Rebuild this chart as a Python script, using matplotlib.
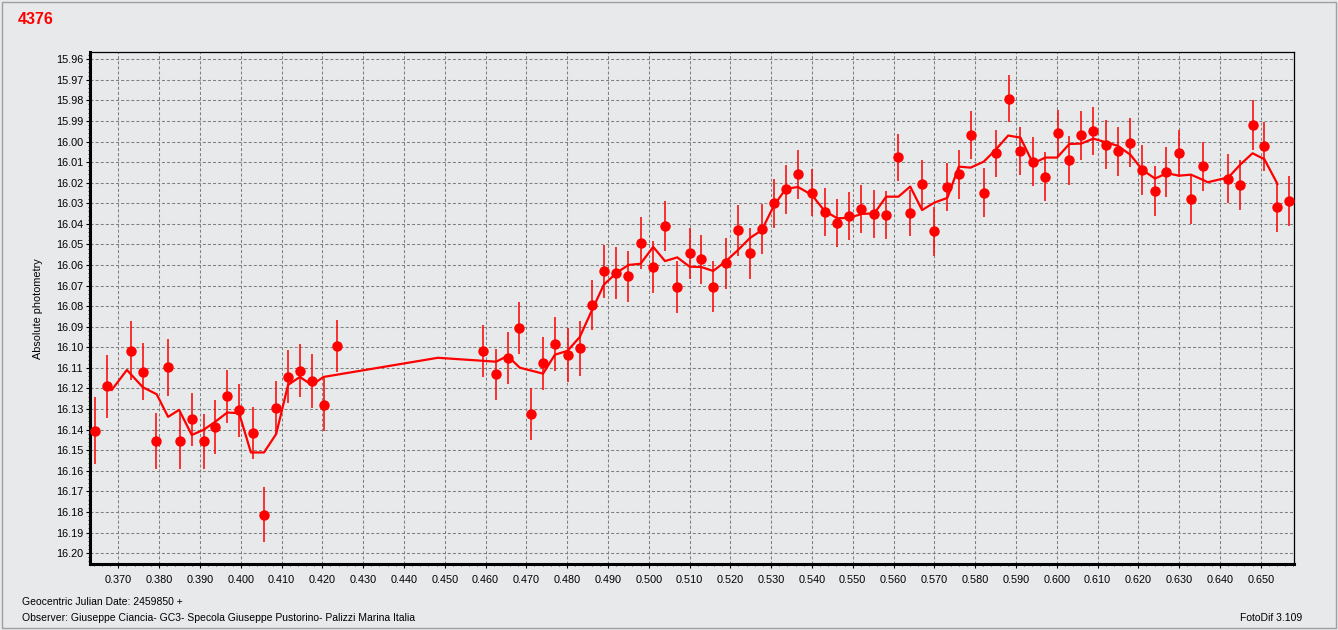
import matplotlib
matplotlib.use("Agg")
import matplotlib.pyplot as plt
from matplotlib.ticker import MultipleLocator, FormatStrFormatter
from matplotlib.patches import Rectangle

# ---- data (Geocentric JD - 2459850, absolute magnitude, error) ----
jd = [0.3643, 0.3672, 0.3731, 0.3760, 0.3792, 0.3822, 0.3851, 0.3880, 0.3909, 0.3938,
      0.3967, 0.3997, 0.4029, 0.4058, 0.4087, 0.4116, 0.4146, 0.4175, 0.4203, 0.4236,
      0.4594, 0.4625, 0.4654, 0.4683, 0.4712, 0.4741, 0.4770, 0.4801, 0.4831, 0.4861,
      0.4890, 0.4920, 0.4950, 0.4980, 0.5011, 0.5040, 0.5070, 0.5100, 0.5129, 0.5158,
      0.5189, 0.5219, 0.5248, 0.5277, 0.5307, 0.5336, 0.5366, 0.5400, 0.5431, 0.5462,
      0.5491, 0.5521,
      0.5553, 0.5582, 0.5612, 0.5641, 0.5670, 0.5699, 0.5731, 0.5760, 0.5789, 0.5821,
      0.5850, 0.5882, 0.5911, 0.5942, 0.5972, 0.6002, 0.6031, 0.6060, 0.6089, 0.6120,
      0.6149, 0.6180, 0.6209, 0.6240, 0.6269, 0.6299, 0.6328, 0.6359, 0.6421, 0.6450,
      0.6480, 0.6509, 0.6541, 0.6570]

mag = [16.1405, 16.1190, 16.1016, 16.1119, 16.1457, 16.1098, 16.1457, 16.1350, 16.1457, 16.1387,
       16.1239, 16.1306, 16.1418, 16.1813, 16.1297, 16.1142, 16.1113, 16.1165, 16.1279, 16.0994,
       16.1019, 16.1131, 16.1053, 16.0906, 16.1323, 16.1077, 16.0985, 16.1037, 16.1005, 16.0795,
       16.0630, 16.0640, 16.0655, 16.0495, 16.0611, 16.0411, 16.0705, 16.0544, 16.0573, 16.0705,
       16.0592, 16.0431, 16.0544, 16.0426, 16.0300, 16.0232, 16.0160, 16.0248, 16.0344, 16.0397,
       16.0362, 16.0329,
       16.0353, 16.0358, 16.0077, 16.0348, 16.0206, 16.0437, 16.0221, 16.0160, 15.9970, 16.0249,
       16.0058, 15.9791, 16.0048, 16.0098, 16.0170, 15.9961, 16.0092, 15.9970, 15.9950, 16.0015,
       16.0048, 16.0005, 16.0140, 16.0240, 16.0148, 16.0058, 16.0280, 16.0121, 16.0180, 16.0212,
       15.9921, 16.0024, 16.0320, 16.0288]

err = [0.0163, 0.0155, 0.0142, 0.0138, 0.0136, 0.0137, 0.0136, 0.0130, 0.0133, 0.0131,
       0.0130, 0.0129, 0.0127, 0.0132, 0.0131, 0.0129, 0.0128, 0.0131, 0.0129, 0.0128,
       0.0126, 0.0123, 0.0126, 0.0126, 0.0127, 0.0129, 0.0130, 0.0130, 0.0133, 0.0123,
       0.0129, 0.0126, 0.0124, 0.0126, 0.0126, 0.0121, 0.0126, 0.0123, 0.0121, 0.0124,
       0.0123, 0.0124, 0.0123, 0.0121, 0.0118, 0.0119, 0.0119, 0.0116, 0.0116, 0.0116,
       0.0116, 0.0116,
       0.0117, 0.0116, 0.0113, 0.0112, 0.0115, 0.0119, 0.0116, 0.0117, 0.0116, 0.0119,
       0.0116, 0.0116, 0.0117, 0.0120, 0.0118, 0.0114, 0.0117, 0.0118, 0.0117, 0.0120,
       0.0120, 0.0120, 0.0121, 0.0122, 0.0121, 0.0116, 0.0119, 0.0120, 0.0120, 0.0120,
       0.0122, 0.0120, 0.0119, 0.0122]

# smoothed curve
smooth_jd = [0.3684, 0.3721, 0.3760, 0.3794, 0.3822, 0.3849, 0.3880, 0.3909, 0.3938, 0.3967,
             0.3996, 0.4025, 0.4057, 0.4087, 0.4116, 0.4145, 0.4174, 0.4203, 0.4483, 0.4589,
             0.4626, 0.4654, 0.4684, 0.4741, 0.4770, 0.4801, 0.4831, 0.4861, 0.4890, 0.4920,
             0.4950, 0.4980, 0.5011, 0.5040, 0.5070, 0.5100, 0.5129, 0.5158, 0.5189, 0.5219,
             0.5248, 0.5277, 0.5307, 0.5336, 0.5366, 0.5400, 0.5431, 0.5462, 0.5491, 0.5522,
             0.5553, 0.5582, 0.5612, 0.5641, 0.5670, 0.5700, 0.5732, 0.5760, 0.5789, 0.5821,
             0.5850, 0.5881, 0.5911, 0.5942, 0.5972, 0.6001, 0.6031, 0.6060, 0.6090, 0.6121,
             0.6150, 0.6181, 0.6210, 0.6241, 0.6270, 0.6300, 0.6329, 0.6359, 0.6370, 0.6421,
             0.6450, 0.6480, 0.6509, 0.6541]
smooth_mag = [16.1207, 16.1110, 16.1194, 16.1228, 16.1338, 16.1304, 16.1426, 16.1401, 16.1361, 16.1317,
              16.1320, 16.1511, 16.1511, 16.1421, 16.1183, 16.1144, 16.1183, 16.1144, 16.1051, 16.1065,
              16.1070, 16.1042, 16.1099, 16.1128, 16.1036, 16.1017, 16.0950, 16.0819, 16.0696, 16.0640,
              16.0600, 16.0594, 16.0512, 16.0581, 16.0563, 16.0608, 16.0610, 16.0629, 16.0582, 16.0527,
              16.0469, 16.0431, 16.0311, 16.0230, 16.0221, 16.0260, 16.0337, 16.0373, 16.0371, 16.0352,
              16.0349, 16.0268, 16.0268, 16.0219, 16.0333, 16.0297, 16.0274, 16.0122, 16.0127, 16.0098,
              16.0041, 15.9971, 15.9981, 16.0106, 16.0078, 16.0078, 16.0012, 16.0010, 15.9986, 16.0004,
              16.0021, 16.0065, 16.0138, 16.0180, 16.0154, 16.0166, 16.0161, 16.0187, 16.0198, 16.0174,
              16.0112, 16.0057, 16.0086, 16.0206]

title_text = "4376"
ylabel_text = "Absolute photometry"
xlabel_text = "Geocentric Julian Date: 2459850 +"
observer_text = "Observer: Giuseppe Ciancia- GC3- Specola Giuseppe Pustorino- Palizzi Marina Italia"
software_text = "FotoDif 3.109"

# ---- style ----
BG = "#E8E9EB"
RED = "#FF0000"
plt.rcParams["font.family"] = ["Liberation Sans", "DejaVu Sans"]

W, H = 1338, 630
fig = plt.figure(figsize=(W / 100, H / 100), dpi=100, facecolor=BG)
ax = fig.add_axes([90 / W, 1 - 564 / H, (1294 - 90) / W, (564 - 52) / H])
ax.set_facecolor(BG)

ax.set_xlim(0.36306, 0.65816)
ax.set_ylim(16.2053, 15.9565)

ax.xaxis.set_major_locator(MultipleLocator(0.01))
ax.xaxis.set_minor_locator(MultipleLocator(0.002))
ax.yaxis.set_major_locator(MultipleLocator(0.01))
ax.yaxis.set_minor_locator(MultipleLocator(0.002))
ax.xaxis.set_major_formatter(FormatStrFormatter("%.3f"))
ax.yaxis.set_major_formatter(FormatStrFormatter("%.2f"))
ax.tick_params(axis="both", which="major", direction="out", length=3, width=0.8,
               labelsize=7.8, colors="black", pad=2)
ax.tick_params(axis="both", which="minor", direction="out", length=1.5, width=0.5)
ax.tick_params(axis="x", pad=5)

ax.grid(True, which="major", color="#808080", linestyle=(0, (2.9, 2.0)), linewidth=0.75)
ax.set_axisbelow(True)

for side in ("top", "right"):
    ax.spines[side].set_linewidth(0.9)
for side in ("left", "bottom"):
    ax.spines[side].set_linewidth(2.2)

ax.plot(smooth_jd, smooth_mag, color=RED, linewidth=1.6, zorder=3)
ax.errorbar(jd, mag, yerr=err, fmt="o", color=RED, ecolor=RED, elinewidth=1.1,
            markersize=6.5, capsize=0, zorder=4)

# texts
fig.text(18 / W, 1 - 19 / H, title_text, color=RED, fontsize=11.5, fontweight="bold",
         ha="left", va="center")
fig.text(38 / W, 1 - 309 / H, ylabel_text, rotation=90, fontsize=7.8,
         ha="center", va="center")
fig.text(22 / W, 1 - 602 / H, xlabel_text, fontsize=7.5, ha="left", va="center")
fig.text(22 / W, 1 - 618 / H, observer_text, fontsize=7.45, ha="left", va="center")
fig.text(1302 / W, 1 - 618 / H, software_text, fontsize=7.5, ha="right", va="center")

# outer frame
fig.patches.append(Rectangle((1.5 / W, 2.5 / H), (W - 4) / W, (H - 4) / H,
                             transform=fig.transFigure, fill=False,
                             edgecolor="#A0A0A0", linewidth=1.0))

fig.savefig("out.png", dpi=100, facecolor=BG)
